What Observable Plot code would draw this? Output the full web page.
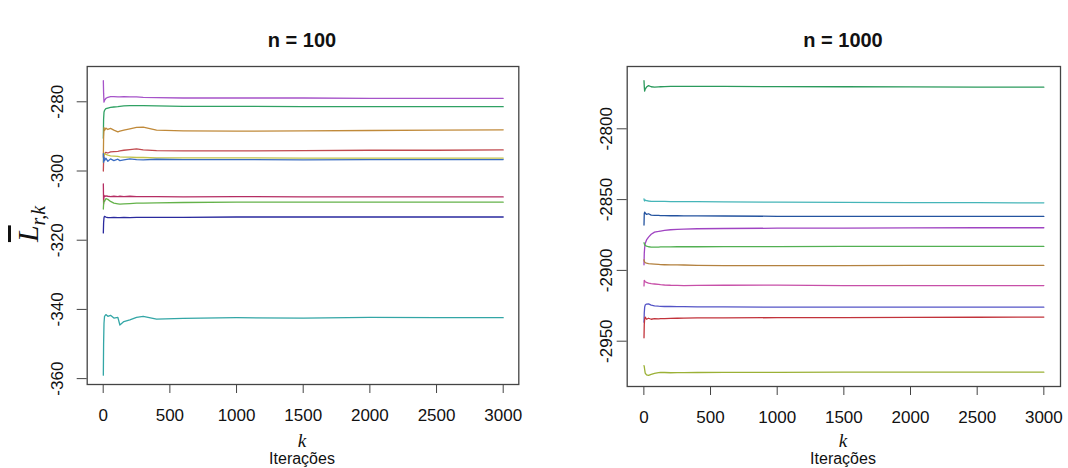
<!DOCTYPE html>
<html><head><meta charset="utf-8">
<script src="https://cdn.jsdelivr.net/npm/d3@7"></script>
<script src="https://cdn.jsdelivr.net/npm/@observablehq/plot@0.6"></script>
<style>
body{margin:0;background:#fff;width:1068px;height:468px;overflow:hidden;position:relative;font-family:"Liberation Sans",Arial,sans-serif;color:#111;}
.abs{position:absolute;}
.title{font-weight:bold;font-size:20px;transform:translate(-50%,-50%);white-space:nowrap;}
.k{font-family:"Liberation Serif",serif;font-style:italic;font-size:19px;transform:translate(-50%,-50%);line-height:1;}
.it{font-size:16px;transform:translate(-50%,-50%);line-height:1;white-space:nowrap;}
.ylab{transform:translate(-50%,-50%) rotate(-90deg);white-space:nowrap;font-family:"Liberation Serif",serif;font-style:italic;line-height:1;}
</style></head><body>
<div id="left" class="abs" style="left:0;top:0"></div>
<div id="right" class="abs" style="left:534px;top:0"></div>
<div class="abs title" style="left:302px;top:40px">n = 100</div>
<div class="abs title" style="left:843px;top:40px">n = 1000</div>
<div class="abs k" style="left:302px;top:440px">k</div>
<div class="abs it" style="left:302px;top:459px">Iterações</div>
<div class="abs k" style="left:843px;top:440px">k</div>
<div class="abs it" style="left:843px;top:459px">Iterações</div>
<div class="abs ylab" style="left:28px;top:224px"><span style="font-size:30px;text-decoration:overline;">L</span><span style="font-size:20px;position:relative;top:7px;">r,k</span></div>
<script>
// iteration steps at which values were read
const kSteps = [1, 3, 6, 10, 20, 35, 55, 80, 110, 125, 155, 200, 250, 300, 400, 600, 1000, 1500, 2000, 2500, 3000];
const xTicks = [0, 500, 1000, 1500, 2000, 2500, 3000];

// n = 100
const yTicks100 = [-280, -300, -320, -340, -360];
const s100Names = ["r1", "r2", "r3", "r4", "r5", "r6", "r7", "r8", "r9", "r10"];
const s100Colors = ["#a653c9", "#2fa163", "#c08a3a", "#c14a4f", "#c2c24a", "#3a6cc2", "#b52d63", "#64b24a", "#2a2a9e", "#33a6a6"];
const n100_r1  = [-273.9, -277.5, -280.1, -279.6, -279.0, -278.7, -278.5, -278.5, -278.6, -278.6, -278.5, -278.6, -278.6, -278.7, -278.8, -278.9, -278.9, -278.9, -279.0, -279.0, -279.0];
const n100_r2  = [-290.5, -285.0, -283.0, -282.5, -282.0, -281.8, -281.6, -281.5, -281.4, -281.3, -281.2, -281.1, -281.1, -281.1, -281.2, -281.3, -281.3, -281.4, -281.4, -281.4, -281.4];
const n100_r3  = [-296.0, -290.5, -287.5, -288.3, -287.6, -288.0, -287.7, -288.2, -288.7, -288.5, -288.2, -287.8, -287.4, -287.3, -288.2, -288.4, -288.5, -288.4, -288.3, -288.2, -288.1];
const n100_r4  = [-300.0, -297.0, -295.5, -295.0, -294.6, -294.8, -294.5, -294.4, -294.3, -294.2, -294.0, -293.8, -293.6, -293.9, -294.1, -294.2, -294.2, -294.1, -294.0, -294.0, -293.9];
const n100_r5  = [-297.5, -296.0, -295.2, -295.0, -295.2, -295.4, -295.6, -295.7, -295.8, -295.9, -296.0, -296.0, -296.1, -296.1, -296.2, -296.2, -296.2, -296.3, -296.3, -296.3, -296.3];
const n100_r6  = [-295.0, -297.5, -296.0, -297.0, -296.3, -297.2, -296.5, -297.0, -296.6, -297.0, -296.8, -296.5, -296.7, -296.8, -296.6, -296.7, -296.7, -296.8, -296.7, -296.7, -296.7];
const n100_r7  = [-303.7, -309.5, -307.0, -307.4, -307.2, -307.3, -307.4, -307.3, -307.4, -307.3, -307.4, -307.3, -307.4, -307.4, -307.4, -307.5, -307.4, -307.5, -307.5, -307.5, -307.5];
const n100_r8  = [-311.0, -309.5, -308.5, -308.8, -308.0, -308.2, -308.8, -309.3, -309.5, -309.6, -309.5, -309.4, -309.3, -309.3, -309.2, -309.1, -309.0, -309.0, -309.0, -309.0, -309.0];
const n100_r9  = [-317.9, -315.0, -313.5, -313.1, -313.3, -313.5, -313.5, -313.4, -313.5, -313.5, -313.4, -313.5, -313.4, -313.4, -313.4, -313.4, -313.3, -313.3, -313.3, -313.3, -313.3];
const n100_r10 = [-359.0, -350.0, -344.0, -342.0, -341.5, -342.0, -341.7, -342.5, -342.3, -344.5, -343.5, -343.0, -342.3, -342.0, -342.8, -342.6, -342.4, -342.5, -342.3, -342.4, -342.4];

// n = 1000
const yTicks1000 = [-2800, -2850, -2900, -2950];
const s1000Names = ["r1", "r2", "r3", "r4", "r5", "r6", "r7", "r8", "r9", "r10"];
const s1000Colors = ["#2b9a5c", "#45b5b8", "#24539f", "#a044c2", "#52b052", "#b3813f", "#c74fa8", "#5454c6", "#c2333b", "#9bb136"];
const n1000_r1  = [-2766.0, -2770.0, -2773.4, -2772.0, -2770.5, -2769.5, -2770.3, -2770.6, -2770.4, -2770.3, -2770.2, -2770.1, -2770.1, -2770.1, -2770.1, -2770.1, -2770.2, -2770.3, -2770.4, -2770.5, -2770.6];
const n1000_r2  = [-2849.5, -2850.5, -2851.0, -2850.3, -2850.8, -2851.0, -2851.2, -2851.2, -2851.3, -2851.3, -2851.3, -2851.4, -2851.4, -2851.5, -2851.5, -2851.6, -2851.8, -2852.0, -2852.1, -2852.2, -2852.3];
const n1000_r3  = [-2868.0, -2860.0, -2858.9, -2859.5, -2860.5, -2860.0, -2861.0, -2861.2, -2861.2, -2861.3, -2861.3, -2861.4, -2861.4, -2861.5, -2861.5, -2861.6, -2861.8, -2861.8, -2861.9, -2861.9, -2861.9];
const n1000_r4  = [-2896.0, -2888.0, -2884.0, -2881.0, -2878.5, -2876.5, -2874.5, -2873.0, -2872.5, -2872.2, -2871.8, -2871.3, -2871.0, -2870.8, -2870.6, -2870.4, -2870.2, -2870.1, -2870.0, -2869.9, -2869.9];
const n1000_r5  = [-2880.5, -2881.0, -2882.0, -2882.4, -2882.8, -2883.3, -2883.6, -2883.5, -2883.5, -2883.4, -2883.4, -2883.4, -2883.3, -2883.3, -2883.3, -2883.2, -2883.2, -2883.1, -2883.1, -2883.1, -2883.1];
const n1000_r6  = [-2892.5, -2893.5, -2894.0, -2894.5, -2894.8, -2895.2, -2895.4, -2895.6, -2895.8, -2895.9, -2896.0, -2896.1, -2896.1, -2896.2, -2896.4, -2896.6, -2896.6, -2896.6, -2896.5, -2896.5, -2896.5];
const n1000_r7  = [-2911.0, -2907.0, -2907.5, -2908.0, -2908.5, -2909.0, -2909.3, -2909.6, -2909.9, -2910.1, -2910.3, -2910.5, -2910.6, -2910.7, -2910.6, -2910.5, -2910.4, -2910.7, -2910.7, -2910.7, -2910.7];
const n1000_r8  = [-2936.6, -2930.0, -2926.0, -2924.5, -2923.8, -2923.6, -2924.5, -2925.0, -2925.3, -2925.4, -2925.5, -2925.5, -2925.6, -2925.6, -2925.7, -2925.8, -2925.9, -2925.9, -2926.0, -2926.0, -2926.0];
const n1000_r9  = [-2947.6, -2938.0, -2934.5, -2933.0, -2934.5, -2933.8, -2934.5, -2934.0, -2934.2, -2934.1, -2934.0, -2933.9, -2933.8, -2933.7, -2933.6, -2933.5, -2933.4, -2933.3, -2933.2, -2933.1, -2933.0];
const n1000_r10 = [-2967.2, -2968.0, -2970.0, -2972.5, -2973.8, -2974.2, -2973.5, -2972.8, -2972.2, -2972.0, -2972.1, -2972.3, -2972.2, -2972.2, -2972.1, -2972.0, -2972.0, -2971.9, -2971.9, -2971.9, -2971.9];

function longForm(names, arrays) {
  const out = [];
  names.forEach((s, i) => arrays[i].forEach((v, j) => out.push({s, k: kSteps[j], v})));
  return out;
}
const data100 = longForm(s100Names, [n100_r1, n100_r2, n100_r3, n100_r4, n100_r5, n100_r6, n100_r7, n100_r8, n100_r9, n100_r10]);
const data1000 = longForm(s1000Names, [n1000_r1, n1000_r2, n1000_r3, n1000_r4, n1000_r5, n1000_r6, n1000_r7, n1000_r8, n1000_r9, n1000_r10]);

const fmt = d => String(d);

function panel(data, names, colors, yDomain, yTicks, xDomain, m, yPad) {
  return Plot.plot({
    width: 534, height: 468,
    marginLeft: m[0], marginRight: m[1], marginTop: m[2], marginBottom: m[3],
    style: {fontFamily: "Liberation Sans, Arial, sans-serif", color: "#111", background: "transparent", overflow: "visible"},
    x: {domain: xDomain},
    y: {domain: yDomain},
    color: {type: "ordinal", domain: names, range: colors},
    marks: [
      Plot.line(data, {x: "k", y: "v", z: "s", stroke: {value: "s", scale: "color"}, strokeWidth: 1.3}),
      Plot.frame({stroke: "#444", strokeWidth: 1.3}),
      Plot.axisX({ticks: xTicks, tickFormat: fmt, tickSize: 9, tickPadding: 15, fontSize: 17, label: null, stroke: "#444"}),
      Plot.axisY({ticks: yTicks, tickFormat: fmt, tickSize: 10, tickPadding: yPad, tickRotate: -90, fontSize: 17, label: null, stroke: "#444"})
    ]
  });
}

document.getElementById("left").append(panel(data100, s100Names, s100Colors, [-361.7, -269.8], yTicks100, [-120, 3117], [86.7, 15.7, 66, 84], 14));
document.getElementById("right").append(panel(data1000, s1000Names, s1000Colors, [-2982, -2756], yTicks1000, [-125, 3125], [92.7, 8, 66, 82], 5));
</script>
</body></html>
